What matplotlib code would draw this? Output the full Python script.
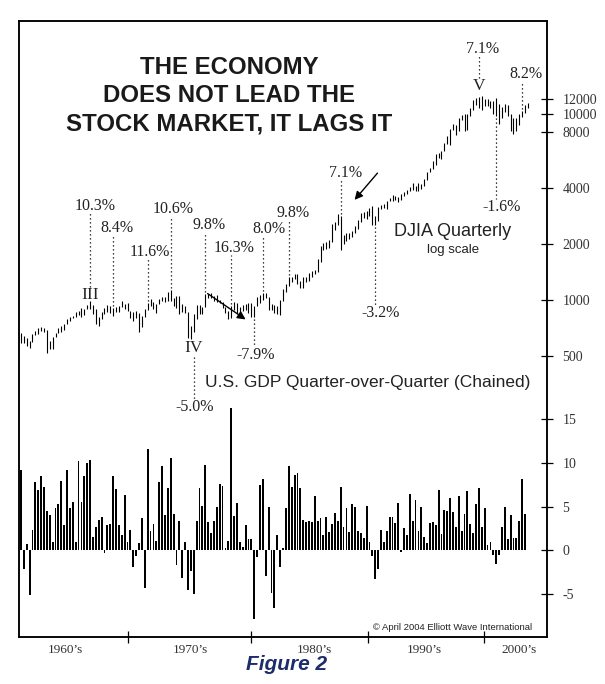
import numpy as np
import matplotlib
matplotlib.use("Agg")
import matplotlib.pyplot as plt
from matplotlib.transforms import blended_transform_factory

SERIF = "Liberation Serif"
SANS = "Liberation Sans"

# real GDP, quarter over quarter, annualised %, 1960Q1 .. 2003Q4
gdp = [
    9.2, -2.1, 0.7, -5.1,
    2.3, 7.8, 6.9, 8.5,
    7.2, 4.5, 4.0, 1.0,
    4.8, 5.3, 7.9, 2.9,
    9.2, 4.8, 5.5, 1.0,
    10.2, 5.5, 8.5, 10.0,
    10.3, 1.5, 2.7, 3.5,
    3.8, -0.3, 2.9, 3.0,
    8.5, 7.0, 2.9, 1.7,
    6.3, 1.0, 2.3, -1.9,
    -0.6, 0.8, 3.7, -4.3,
    11.6, 2.2, 3.0, 1.1,
    7.8, 9.6, 4.0, 7.1,
    10.6, 4.1, -1.7, 3.4,
    -3.2, 1.0, -4.5, -2.4,
    -5.0, 3.3, 7.1, 5.1,
    9.8, 3.2, 2.0, 3.3,
    5.0, 7.6, 7.4, 0.3,
    1.1, 16.3, 3.9, 5.4,
    1.0, 0.4, 2.9, 1.3,
    1.3, -7.9, -0.8, 7.5,
    8.1, -2.9, 4.9, -4.9,
    -6.6, 1.8, -1.9, 0.3,
    4.8, 9.6, 7.2, 8.6,
    8.8, 7.1, 3.5, 3.2,
    3.4, 3.2, 6.2, 3.4,
    3.7, 1.7, 3.8, 2.1,
    3.0, 4.3, 3.4, 7.2,
    2.7, 4.8, 2.1, 5.3,
    5.0, 2.2, 2.0, 1.4,
    5.1, 1.0, -0.7, -3.3,
    -2.1, 2.3, 1.0, 2.2,
    3.8, 3.8, 3.1, 5.4,
    -0.2, 2.5, 1.8, 6.4,
    3.4, 5.8, 2.2, 5.0,
    1.5, 0.8, 3.1, 3.2,
    2.9, 6.9, 1.9, 4.6,
    4.5, 6.0, 4.4, 2.7,
    6.2, 2.2, 4.1, 6.8,
    3.0, 2.0, 5.3, 7.1,
    2.7, 4.8, 0.6, 1.0,
    -0.5, -1.6, -0.5, 2.7,
    5.0, 1.3, 4.0, 1.4,
    1.4, 3.4, 8.2, 4.2,
]

# DJIA quarterly high / low, 1960Q1 .. 2004Q1
djia_high = [
    665, 640, 625, 600,
    660, 685, 705, 715,
    705, 690, 600, 635,
    665, 705, 725, 745,
    795, 815, 825, 865,
    875, 910, 895, 940,
    985, 945, 890, 815,
    865, 909, 943, 933,
    908, 919, 925, 985,
    952, 968, 873, 863,
    868, 847, 825, 900,
    967, 1016, 971, 955,
    1008, 1040, 1041, 1108,
    1125, 1027, 1046, 1056,
    954, 933, 862, 721,
    841, 940, 943, 920,
    1080, 1082, 1086, 1057,
    1069, 995, 976, 916,
    874, 928, 970, 964,
    920, 939, 955, 960,
    966, 929, 1041, 1070,
    1086, 1096, 1035, 954,
    944, 926, 1000, 1145,
    1225, 1335, 1336, 1377,
    1377, 1269, 1326, 1331,
    1390, 1428, 1454, 1662,
    1950, 2024, 2053, 2092,
    2573, 2616, 2913, 2826,
    2233, 2303, 2280, 2336,
    2504, 2699, 2945, 2986,
    3007, 3140, 3210, 2823,
    3181, 3249, 3269, 3391,
    3520, 3652, 3630, 3566,
    3723, 3803, 3908, 4060,
    4256, 4108, 4230, 4212,
    4449, 4875, 5138, 5581,
    6081, 6182, 6307, 7019,
    7581, 8342, 8837, 8750,
    9529, 9856, 9992, 10030,
    10706, 11884, 12119, 12302,
    12544, 12077, 12102, 11739,
    11752, 12131, 11353, 10847,
    11379, 11108, 10036, 9556,
    9461, 9976, 10335, 11186,
    11490,
]
djia_low = [
    585, 585, 565, 550,
    595, 650, 660, 680,
    670, 520, 545, 545,
    630, 665, 675, 690,
    745, 770, 800, 810,
    830, 815, 830, 895,
    900, 840, 740, 725,
    786, 843, 860, 849,
    825, 861, 867, 916,
    899, 870, 801, 770,
    796, 675, 716, 806,
    888, 934, 899, 853,
    951, 990, 974, 985,
    987, 930, 911, 843,
    859, 851, 625, 617,
    676, 794, 839, 839,
    918, 1025, 1028, 989,
    976, 962, 901, 856,
    794, 805, 884, 847,
    863, 878, 888, 852,
    812, 812, 923, 959,
    997, 1029, 882, 882,
    851, 843, 831, 993,
    1099, 1191, 1244, 1300,
    1213, 1162, 1163, 1244,
    1267, 1329, 1388, 1418,
    1607, 1858, 1881, 1906,
    2062, 2371, 2537, 1860,
    2011, 2077, 2129, 2181,
    2294, 2417, 2612, 2749,
    2721, 2830, 2531, 2531,
    2643, 3067, 3109, 3089,
    3394, 3404, 3453, 3357,
    3469, 3606, 3692, 3831,
    3880, 3845, 3878, 3931,
    4100, 4428, 4875, 5032,
    5350, 5799, 5720, 6317,
    6893, 6838, 8233, 7662,
    8111, 9231, 8067, 8166,
    9697, 10471, 11121, 10720,
    10482, 11021, 11102, 10736,
    10046, 9743, 8812, 9455,
    10291, 9758, 8059, 7796,
    8051, 8677, 9615, 10132,
    10751,
]

djia_ticks = [500, 1000, 2000, 4000, 8000, 10000, 12000]
gdp_ticks = [-5, 0, 5, 10, 15]
decade_labels = ["1960\u2019s", "1970\u2019s", "1980\u2019s", "1990\u2019s", "2000\u2019s"]

# GDP values called out on the DJIA (label, quarter index)
peak_notes = [("10.3%", 24), ("8.4%", 32), ("11.6%", 44), ("10.6%", 52),
              ("9.8%", 64), ("16.3%", 73), ("8.0%", 84), ("9.8%", 93),
              ("7.1%", 111), ("7.1%", 159), ("8.2%", 174)]
trough_notes = [("-5.0%", 60), ("-7.9%", 81), ("-3.2%", 123), ("-1.6%", 165)]
waves = [("III", 24), ("IV", 60), ("V", 159)]

t_gdp = 1960 + np.arange(len(gdp)) / 4
t_djia = 1960 + np.arange(len(djia_high)) / 4

# layout helpers (reference pixel rows)
ymin = 1000 * 2 ** ((300 - 637) / 56)
ymax = 1000 * 2 ** ((300 - 21) / 56)


def ay(py):
    return (637 - py) / 616


def frac(v):
    return np.log(v / ymin) / np.log(ymax / ymin)


fig = plt.figure(figsize=(6.05, 6.84), dpi=100)
ax = fig.add_axes([19 / 605, 47 / 684, 528 / 605, 616 / 684])
ax2 = ax.twinx()

ax.vlines(t_djia, djia_low, djia_high, color="black", lw=0.8)
ax.set_yscale("log")
ax.set_ylim(ymin, ymax)
ax.set_xlim(1959.83, 2005.66)

ax2.bar(t_gdp, gdp, width=0.16, color="black", linewidth=0, antialiased=False)
ax2.set_ylim(-9.91, 60.5)

for a in (ax, ax2):
    for s in a.spines.values():
        s.set_linewidth(1.1)

ax.yaxis.tick_right()
ax.set_yticks(djia_ticks)
ax.set_yticklabels([str(v) for v in djia_ticks])
ax.yaxis.set_minor_locator(plt.NullLocator())
ax2.set_yticks(gdp_ticks)
ax2.set_yticklabels([str(v) for v in gdp_ticks])
for a in (ax, ax2):
    a.tick_params(axis="y", which="major", direction="inout", length=8, width=0.9,
                  pad=7, labelsize=10, labelcolor="#333333")
    for lab in a.get_yticklabels():
        lab.set_family(SERIF)
        lab.set_horizontalalignment("left")

ax.set_xticks([1969.3, 1980.0, 1990.1, 2000.2])
ax.set_xticklabels([])
ax.set_xticks([1963.9, 1974.67, 1985.43, 1994.98, 2003.23], minor=True)
ax.set_xticklabels(decade_labels, minor=True, family=SERIF, fontsize=9.5, color="#333333")
ax.tick_params(axis="x", which="major", direction="inout", length=8, width=0.9)
ax.tick_params(axis="x", which="minor", length=0, pad=5)

tr = blended_transform_factory(ax.transData, ax.transAxes)
dot = dict(color="black", lw=0.9, ls=(0, (1, 2.2)), transform=tr)
note_font = dict(family=SERIF, fontsize=11.5, color="#222222", transform=tr,
                 ha="center", va="center")

# text offsets (px) and text rows for each callout
peak_pos = [(5, 206), (4, 228), (2, 252), (2, 209), (4, 225), (3, 248),
            (6, 229), (4, 213), (5, 173), (4, 49), (4, 74)]
for (lab, n), (dx, py) in zip(peak_notes, peak_pos):
    t = t_gdp[n]
    ax.text(t + dx / 11.52, ay(py), lab, **note_font)
    bottom = frac(djia_high[n]) + 2 / 616
    if n in (24, 159):
        bottom = ay(py + 81 if n == 24 else py + 29)
    ax.plot([t, t], [bottom, ay(py + 7)], **dot)

trough_pos = [(1, 407), (1, 355), (5, 313), (5, 207)]
for (lab, n), (dx, py) in zip(trough_notes, trough_pos):
    t = t_gdp[n]
    ax.text(t + dx / 11.52, ay(py), lab, **note_font)
    top = frac(djia_low[n]) - 2 / 616
    if n == 60:
        top = ay(357)
    ax.plot([t, t], [top, ay(py - 8)], **dot)

wave_rows = [295, 348, 86]
for (lab, n), py in zip(waves, wave_rows):
    ax.text(t_gdp[n], ay(py), lab, family=SERIF, fontsize=12.5, color="#222222",
            transform=tr, ha="center", va="center")

arrow = dict(arrowstyle="-|>", color="black", lw=1.0, mutation_scale=12)
ax.annotate("", xy=(1979.7, ay(321)), xytext=(1976.0, ay(292)),
            xycoords=tr, textcoords=tr, arrowprops=arrow)
ax.annotate("", xy=(1988.8, ay(202)), xytext=(1991.1, ay(171)),
            xycoords=tr, textcoords=tr, arrowprops=arrow)


def fx(px):
    return px / 605


def fy(py):
    return 1 - py / 684


title = ["THE ECONOMY", "DOES NOT LEAD THE", "STOCK MARKET, IT LAGS IT"]
for line, py in zip(title, [67, 95, 124]):
    fig.text(fx(229), fy(py), line, family=SANS, weight="bold", fontsize=17.3,
             color="#1a1a1a", ha="center", va="center")

fig.text(fx(453), fy(232), "DJIA Quarterly", family=SANS, fontsize=13,
         color="#222222", ha="center", va="center")
fig.text(fx(453), fy(250), "log scale", family=SANS, fontsize=9.5,
         color="#222222", ha="center", va="center")
fig.text(fx(368), fy(382), "U.S. GDP Quarter-over-Quarter (Chained)", family=SANS,
         fontsize=12.5, color="#222222", ha="center", va="center")
fig.text(fx(453), fy(627), "\u00a9 April 2004 Elliott Wave International", family=SANS,
         fontsize=6.8, color="#222222", ha="center", va="center")
fig.text(fx(287), fy(665), "Figure 2", family=SANS, weight="bold", style="italic",
         fontsize=15, color="#1d2c6b", ha="center", va="center")

fig.savefig("out.png", dpi=100)
